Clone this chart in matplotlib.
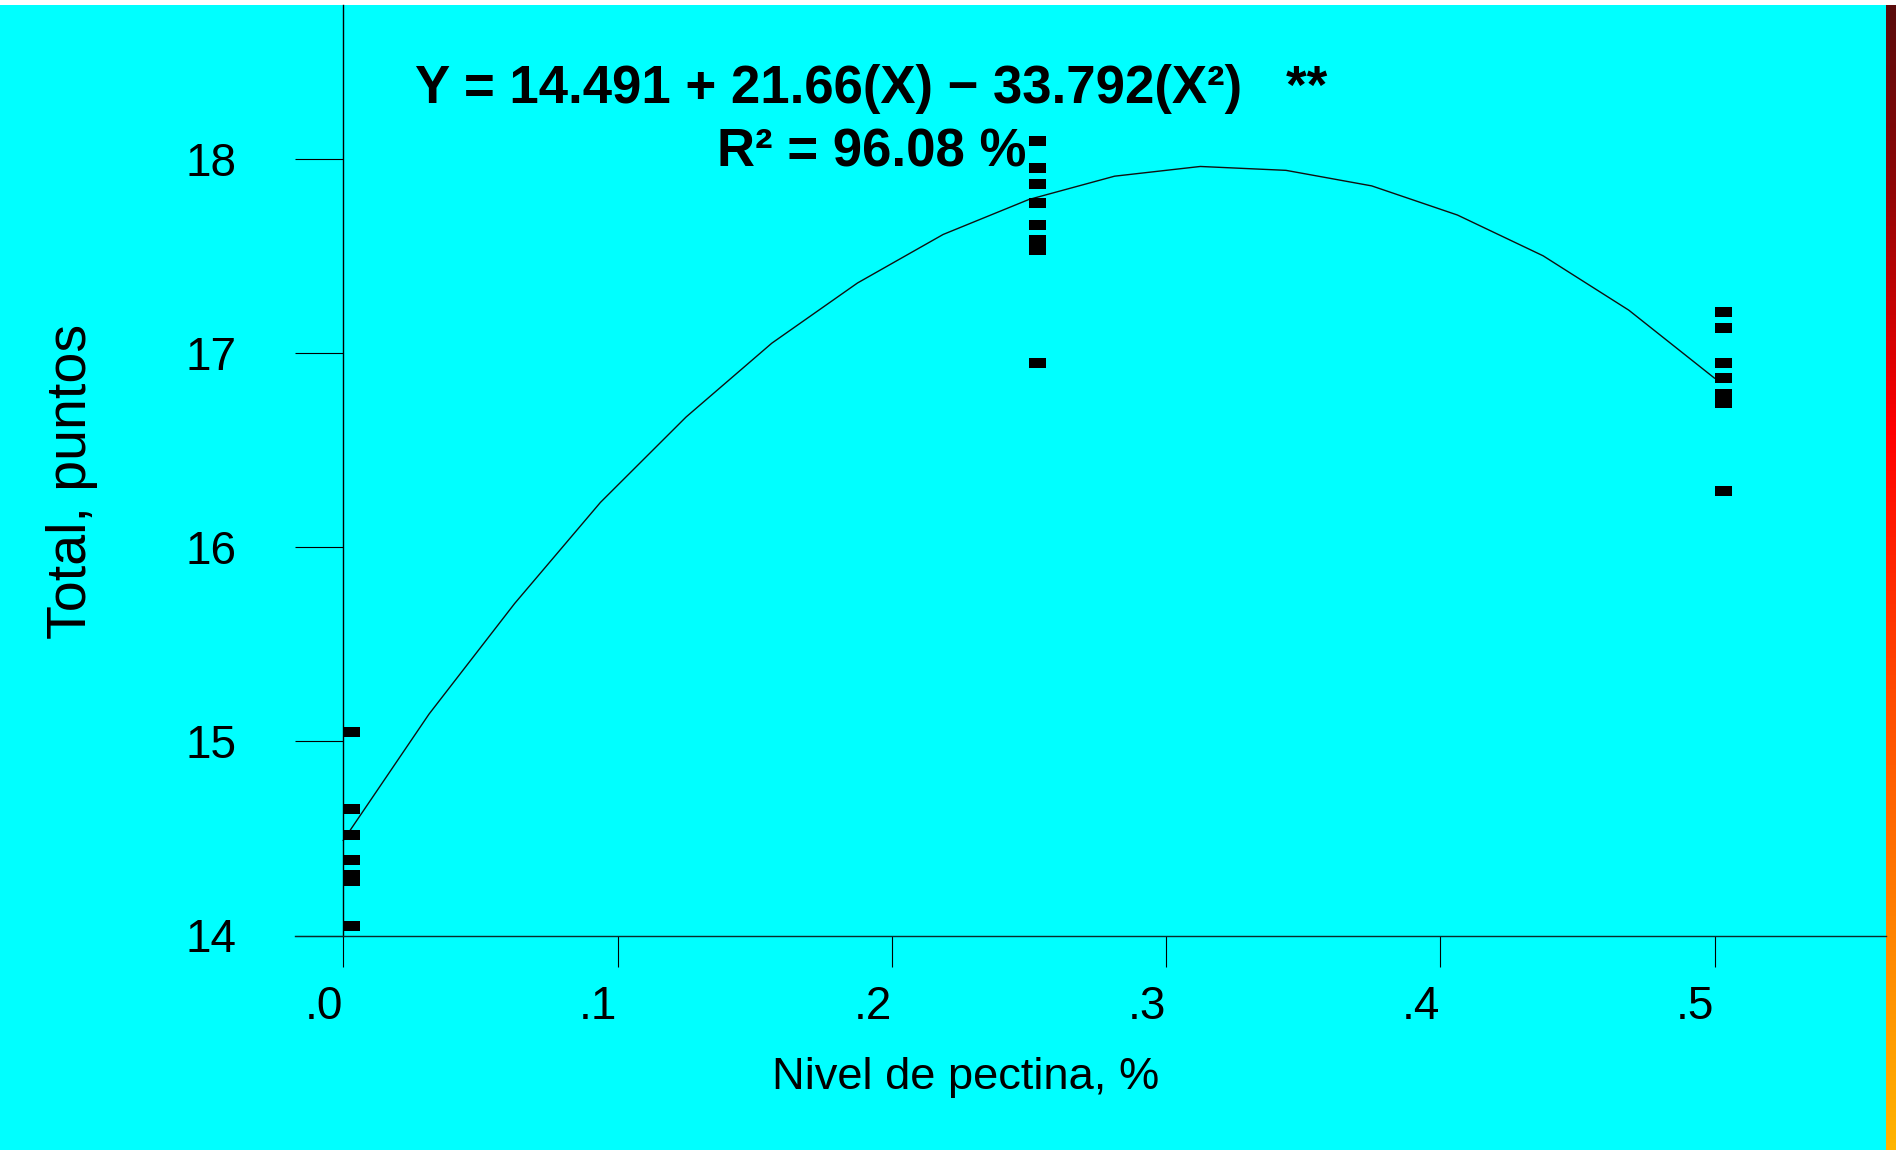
import numpy as np
import matplotlib
matplotlib.use('Agg')
import matplotlib.pyplot as plt
from matplotlib.path import Path
from matplotlib.patches import Rectangle
from matplotlib import font_manager
from matplotlib.colors import LinearSegmentedColormap

# ---------------- data ----------------
pectin_levels = [0.0, 0.25, 0.5]
total_at_000 = [15.05, 14.65, 14.52, 14.39, 14.31, 14.28, 14.05]
total_at_025 = [18.09, 17.95, 17.87, 17.77, 17.66, 17.58, 17.53, 16.95]
total_at_050 = [17.21, 17.13, 16.95, 16.87, 16.79, 16.74, 16.29]

fit_x = [0.0, 0.03125, 0.0625, 0.09375, 0.125, 0.15625, 0.1875, 0.21875, 0.25,
         0.28125, 0.3125, 0.34375, 0.375, 0.40625, 0.4375, 0.46875, 0.5]
fit_y = [14.49, 15.14, 15.71, 16.23, 16.67, 17.05, 17.36, 17.61, 17.79,
         17.91, 17.96, 17.94, 17.86, 17.71, 17.50, 17.22, 16.87]

x_ticks = [0.0, 0.1, 0.2, 0.3, 0.4, 0.5]
x_ticklabels = ['.0', '.1', '.2', '.3', '.4', '.5']
y_ticks = [14, 15, 16, 17, 18]
y_ticklabels = ['14', '15', '16', '17', '18']

equation_text = "Y = 14.491 + 21.66(X) \u2212 33.792(X\u00b2)   **"
r2_text = "R\u00b2 = 96.08 %"
x_label = "Nivel de pectina, %"
y_label = "Total, puntos"

# ---------------- layout ----------------
W, H = 1896, 1150
fig = plt.figure(figsize=(W / 100, H / 100), dpi=100, facecolor='white')

def fx(px):
    return px / W

def fy(py):
    return 1 - py / H

CYAN = '#00FFFF'
top_px = 5
bar_left = 1886

fig.add_artist(Rectangle((0, 0), fx(bar_left), fy(top_px), transform=fig.transFigure,
                         facecolor=CYAN, edgecolor='none', zorder=-10))

# gradient bar at the right edge
cmap = LinearSegmentedColormap.from_list(
    'edge', [(0.0, '#5a0c0c'), (0.15, '#8c0606'), (0.37, '#ff0000'),
             (0.6, '#ff4a00'), (0.8, '#ff8000'), (1.0, '#ffb400')])
gax = fig.add_axes([fx(bar_left), 0, fx(W - bar_left), fy(top_px)])
gax.imshow(np.linspace(0, 1, 256)[:, None], aspect='auto', cmap=cmap,
           interpolation='bilinear')
gax.axis('off')

# main axes
x0_px, x05_px = 343.3, 1714.5
px_per_unit_x = (x05_px - x0_px) / 0.5
y14_px, y18_px = 935.5, 158.7
px_per_unit_y = (y14_px - y18_px) / 4.0

ax_left_px = 294.8
ax = fig.add_axes([fx(ax_left_px), fy(y14_px), fx(bar_left - ax_left_px), (y14_px - top_px) / H])
ax.patch.set_visible(False)
ax.set_xlim((ax_left_px - x0_px) / px_per_unit_x, (bar_left - x0_px) / px_per_unit_x)
ax.set_ylim(14, 14 + (y14_px - top_px) / px_per_unit_y)

for s in ['top', 'right']:
    ax.spines[s].set_visible(False)
ax.spines['left'].set_position(('data', 0))
ax.spines['left'].set_linewidth(1.0)
ax.spines['bottom'].set_linewidth(1.0)
ax.spines['bottom'].set_color('#0a2a2a')

tick_font = dict(family=['Liberation Sans', 'DejaVu Sans'], size=33)
ax.set_xticks(x_ticks)
ax.set_xticklabels(x_ticklabels, fontdict=tick_font, ha='right')
ax.set_yticks(y_ticks)
ax.set_yticklabels(y_ticklabels, fontdict=tick_font)
ax.tick_params(axis='x', direction='out', length=22.3, width=0.8, pad=13, colors='black')
ax.tick_params(axis='y', direction='out', length=34.6, width=0.8, pad=42.5, colors='black')

# fitted curve
ax.plot(fit_x, fit_y, color='#101010', lw=1.0, zorder=2)

# data points: rectangles whose left edge sits on the x value
rect_marker = Path([(0, -0.32), (1, -0.32), (1, 0.32), (0, 0.32), (0, -0.32)],
                   [Path.MOVETO, Path.LINETO, Path.LINETO, Path.LINETO, Path.CLOSEPOLY])
for lvl, vals in zip(pectin_levels, [total_at_000, total_at_025, total_at_050]):
    ax.plot([lvl] * len(vals), vals, linestyle='none', marker=rect_marker, ms=24.5,
            mfc='black', mec='none', mew=0, zorder=3, clip_on=False)

# texts
title_font = dict(family=['Liberation Sans', 'DejaVu Sans'], size=38, weight='bold')
fig.text(fx(871.5), fy(102.7), equation_text, ha='center', va='baseline', **title_font)
fig.text(fx(871.5), fy(166.7), r2_text, ha='center', va='baseline', **title_font)

fig.text(fx(966), fy(1089), x_label, ha='center', va='baseline',
         family=['Liberation Sans', 'DejaVu Sans'], size=32.6)


def has_font(name):
    try:
        font_manager.findfont(font_manager.FontProperties(family=name),
                              fallback_to_default=False)
        return True
    except Exception:
        return False

if has_font('Liberation Sans Narrow'):
    yl_family, yl_size = ['Liberation Sans Narrow', 'DejaVu Sans'], 46
else:
    yl_family, yl_size = ['Liberation Sans', 'DejaVu Sans'], 40
fig.text(fx(86), fy(481), y_label, rotation=90, rotation_mode='anchor',
         ha='center', va='baseline', family=yl_family, size=yl_size)

fig.savefig('out.png', dpi=100, facecolor=fig.get_facecolor())
